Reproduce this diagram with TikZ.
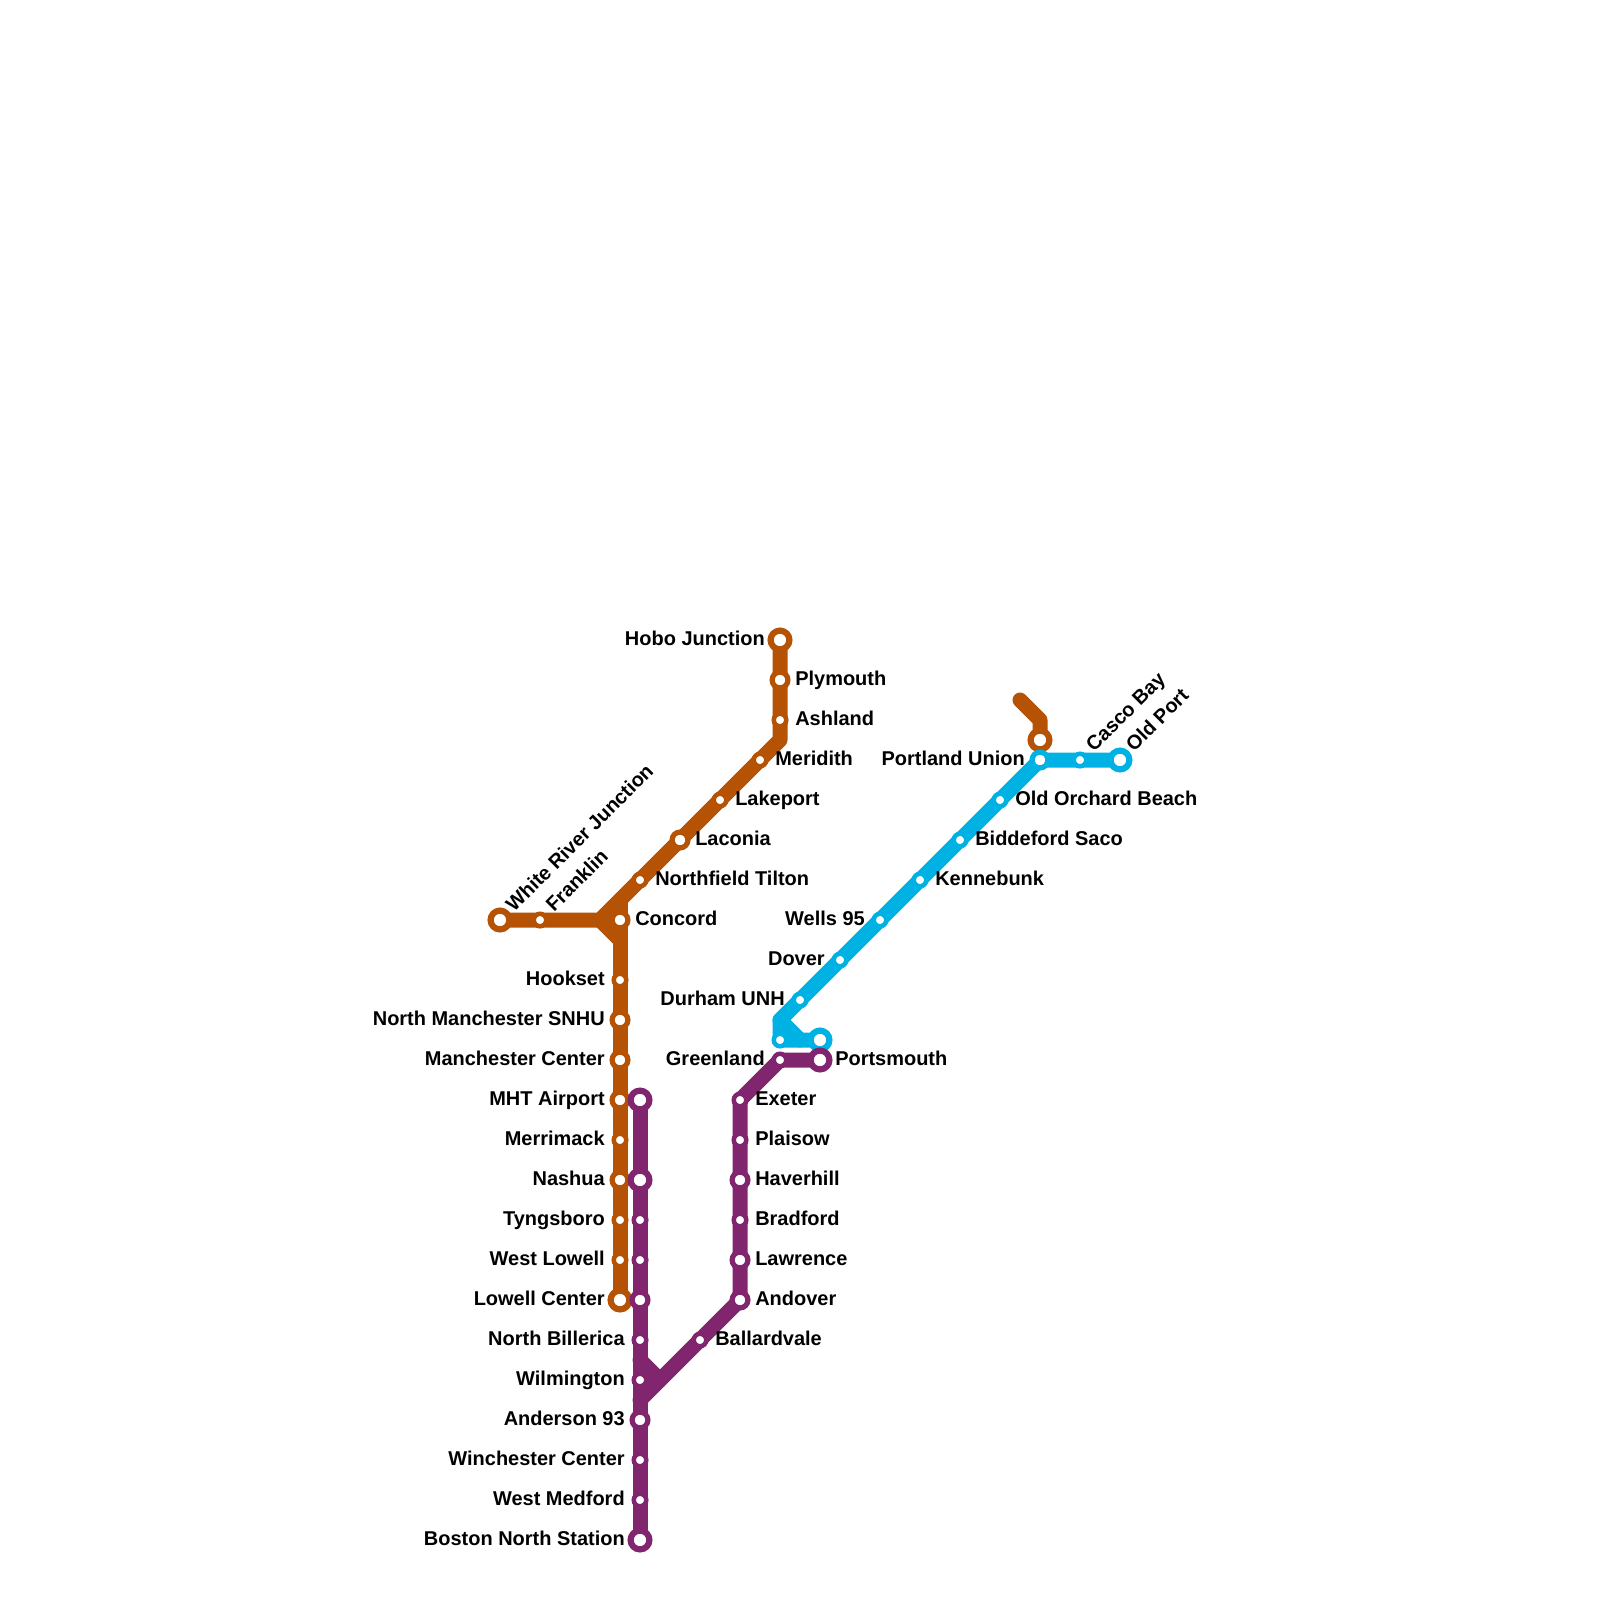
\documentclass[tikz,border=0pt]{standalone}
\usepackage{fontspec}
\setmainfont{Liberation Sans}
\usepackage{xcolor}
\usetikzlibrary{backgrounds}
\definecolor{lineorange}{RGB}{181, 82, 3}
\definecolor{lineblue}{RGB}{0, 178, 227}
\definecolor{linepurple}{RGB}{129, 38, 110}

\tikzset{
    termstop/.style={circle, fill=white, inner sep=0pt, minimum size=4.7mm, line width=1.55mm},
    midstop/.style={circle, fill=white, inner sep=0pt, minimum size=3.95mm, line width=1.3mm},
    smallstop/.style={circle, fill=white, inner sep=0pt, minimum size=3.125mm, line width=1.125mm},
    stoptext/.style={font=\fontsize{14.2}{16}\selectfont\bfseries, inner sep=0pt, text=black},
    sideR/.style={stoptext, anchor=base west, xshift=3.75mm, yshift=-1.45mm},
    sideL/.style={stoptext, anchor=base east, xshift=-3.75mm, yshift=-1.45mm},
    sideU/.style={stoptext, anchor=base west, xshift=3.5mm, yshift=1.75mm, rotate=45},
    sideN/.style={stoptext},
    route/.style={line width=3.75mm, line cap=round, line join=round}
}

\begin{document}
\begin{tikzpicture}[x=0.025cm, y=-0.025cm]
\useasboundingbox (0,0) rectangle (1600,1600);

% Orange stations
\foreach \stopname/\x/\y/\kind/\side/\txt in {
    hobo/780/640/termstop/sideL/Hobo Junction,
    plymouth/780/680/midstop/sideR/Plymouth,
    ashland/780/720/smallstop/sideR/Ashland,
    meridith/760/760/smallstop/sideR/Meridith,
    lakeport/720/800/smallstop/sideR/Lakeport,
    laconia/680/840/midstop/sideR/Laconia,
    tilton/640/880/smallstop/sideR/Northfield Tilton,
    concord/620/920/midstop/sideR/Concord,
    whiteriver/500/920/termstop/sideU/White River Junction,
    franklin/540/920/smallstop/sideU/Franklin,
    hookset/620/980/smallstop/sideL/Hookset,
    snhu/620/1020/midstop/sideL/North Manchester SNHU,
    manchester/620/1060/midstop/sideL/Manchester Center,
    airport/620/1100/midstop/sideL/MHT Airport,
    merrimack/620/1140/smallstop/sideL/Merrimack,
    nashua/620/1180/midstop/sideL/Nashua,
    tyngsboro/620/1220/smallstop/sideL/Tyngsboro,
    westlowell/620/1260/smallstop/sideL/West Lowell,
    lowell/620/1300/termstop/sideL/Lowell Center,
    portlandN/1040/740/termstop/sideN/{}} {
    \node[\kind, draw=lineorange] (\stopname) at (\x,\y) {};
    \node[\side] (\stopname-txt) at (\x,\y) {\txt};
}

% Blue stations
\foreach \stopname/\x/\y/\kind/\side/\txt in {
    oldport/1120/760/termstop/sideU/Old Port,
    casco/1080/760/smallstop/sideU/Casco Bay,
    portland/1040/760/midstop/sideL/Portland Union,
    orchard/1000/800/smallstop/sideR/Old Orchard Beach,
    biddeford/960/840/smallstop/sideR/Biddeford Saco,
    kennebunk/920/880/smallstop/sideR/Kennebunk,
    wells/880/920/smallstop/sideL/Wells 95,
    dover/840/960/smallstop/sideL/Dover,
    durham/800/1000/smallstop/sideL/Durham UNH,
    blueleft/780/1040/smallstop/sideN/{},
    blueright/820/1040/termstop/sideN/{}} {
    \node[\kind, draw=lineblue] (\stopname) at (\x,\y) {};
    \node[\side] (\stopname-txt) at (\x,\y) {\txt};
}

% Purple stations
\foreach \stopname/\x/\y/\kind/\side/\txt in {
    portsmouth/820/1060/termstop/sideR/Portsmouth,
    greenland/780/1060/smallstop/sideL/Greenland,
    exeter/740/1100/smallstop/sideR/Exeter,
    plaisow/740/1140/smallstop/sideR/Plaisow,
    haverhill/740/1180/midstop/sideR/Haverhill,
    bradford/740/1220/smallstop/sideR/Bradford,
    lawrence/740/1260/midstop/sideR/Lawrence,
    andover/740/1300/midstop/sideR/Andover,
    ballardvale/700/1340/smallstop/sideR/Ballardvale,
    purpletop/640/1100/termstop/sideN/{},
    purplenashua/640/1180/termstop/sideN/{},
    purpleA/640/1220/smallstop/sideN/{},
    purpleB/640/1260/smallstop/sideN/{},
    purpleC/640/1300/midstop/sideN/{},
    billerica/640/1340/smallstop/sideL/North Billerica,
    wilmington/640/1380/smallstop/sideL/Wilmington,
    anderson/640/1420/midstop/sideL/Anderson 93,
    winchester/640/1460/smallstop/sideL/Winchester Center,
    medford/640/1500/smallstop/sideL/West Medford,
    boston/640/1540/termstop/sideL/Boston North Station} {
    \node[\kind, draw=linepurple] (\stopname) at (\x,\y) {};
    \node[\side] (\stopname-txt) at (\x,\y) {\txt};
}

% Bends of the routes
\coordinate (bendashland) at (780,740);
\coordinate (joinorange) at (600,920);
\coordinate (toporange) at (620,900);
\coordinate (footorange) at (620,940);
\coordinate (tailstart) at (1020,700);
\coordinate (tailbend) at (1040,720);
\coordinate (bendblue) at (780,1020);
\coordinate (joinblue) at (800,1040);
\coordinate (joinpurple) at (640,1400);
\coordinate (bendpurple) at (640,1360);
\coordinate (spurpurple) at (660,1380);

% Routes sit under the stations
\begin{scope}[on background layer]
    \draw[route, lineorange] (hobo.center) -- (bendashland) -- (joinorange) -- (whiteriver.center);
    \draw[route, lineorange] (joinorange) -- (footorange);
    \draw[route, lineorange] (toporange) -- (lowell.center);
    \draw[route, lineorange] (tailstart) -- (tailbend) -- (portlandN.center);
    \draw[route, lineblue] (oldport.center) -- (portland.center) -- (bendblue) -- (blueleft.center) -- (blueright.center);
    \draw[route, lineblue] (bendblue) -- (joinblue);
    \draw[route, linepurple] (portsmouth.center) -- (greenland.center) -- (exeter.center) -- (andover.center) -- (joinpurple);
    \draw[route, linepurple] (purpletop.center) -- (boston.center);
    \draw[route, linepurple] (bendpurple) -- (spurpurple) -- (wilmington.center);
\end{scope}
\end{tikzpicture}
\end{document}
